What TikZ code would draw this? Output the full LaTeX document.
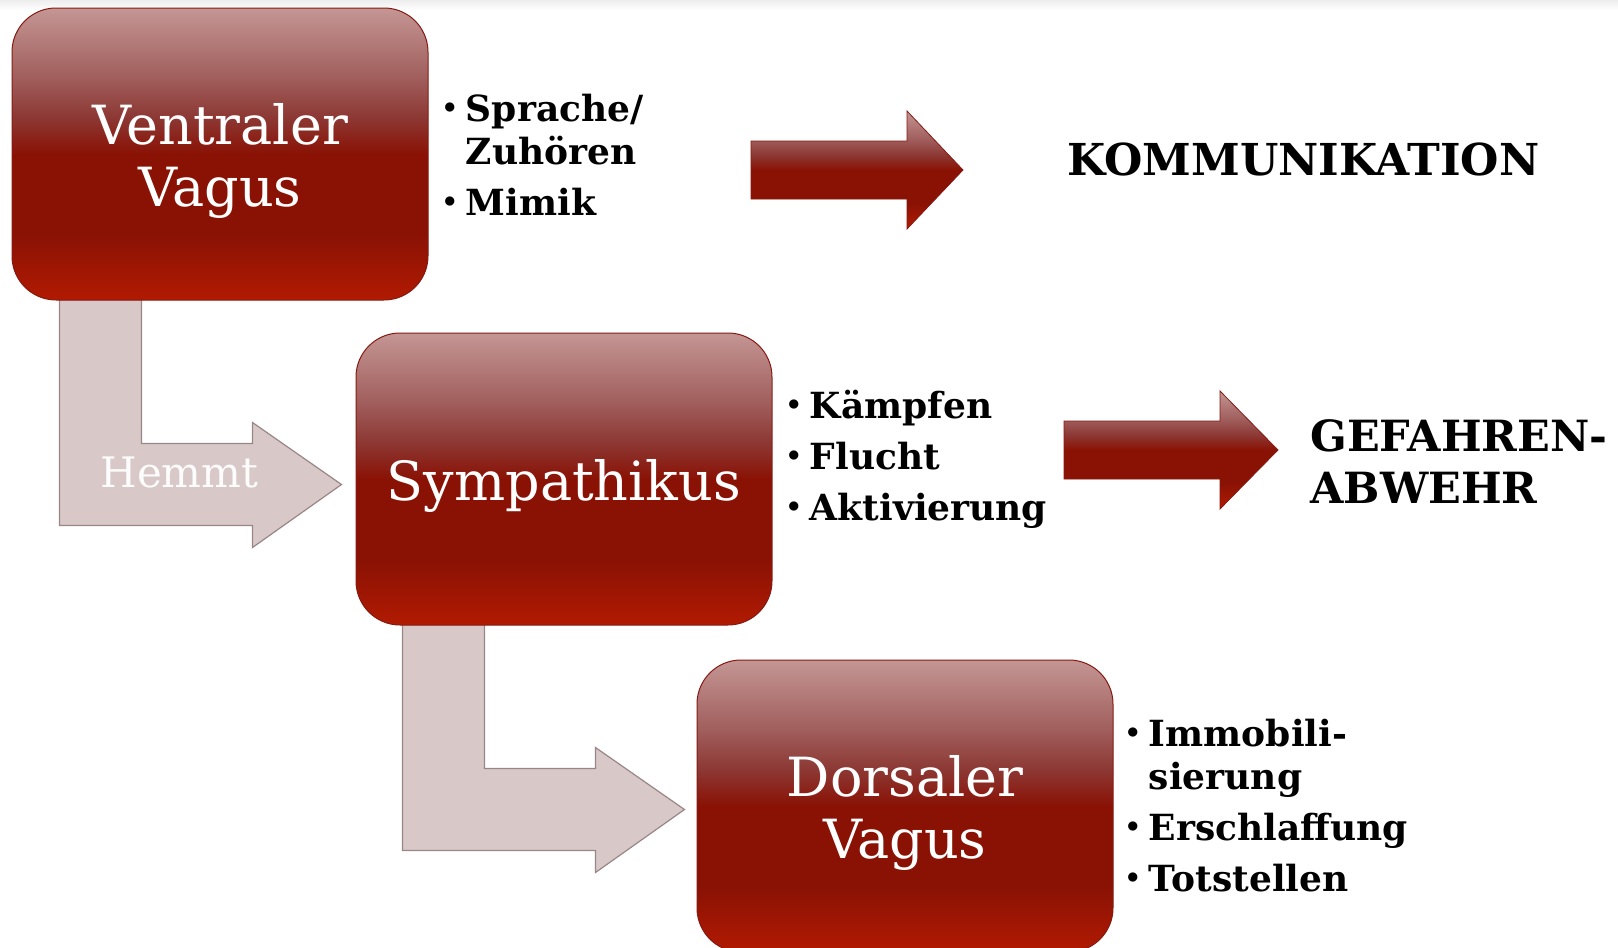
\documentclass[tikz,border=0pt]{standalone}
\usepackage{fontspec}
\setmainfont{DejaVu Serif}
\usetikzlibrary{calc,backgrounds}

\definecolor{boxtop}{HTML}{C49694}
\definecolor{boxupper}{HTML}{A05E5C}
\definecolor{boxlow}{HTML}{8C3632}
\definecolor{boxmid}{HTML}{8A1204}
\definecolor{boxbot}{HTML}{B21A02}
\definecolor{boxline}{HTML}{861A12}
\definecolor{bendfill}{HTML}{D8C8C8}
\definecolor{bendline}{HTML}{9A8686}

\pgfdeclareverticalshading{vagusshade}{100bp}{color(0bp)=(boxbot); color(25bp)=(boxbot); color(36bp)=(boxmid); color(50bp)=(boxmid); color(56bp)=(boxlow); color(63bp)=(boxupper); color(75bp)=(boxtop); color(100bp)=(boxtop)}

\tikzset{
	nerve/.style={shade, shading=vagusshade, draw=boxline, line width=0.5pt, rounded corners=22pt,
		minimum width=208pt, minimum height=146pt, inner sep=0pt, align=center, text=white,
		font=\fontsize{27}{31}\selectfont},
	items/.style={anchor=base west, inner sep=0pt, font=\fontsize{18}{21.5}\selectfont\bfseries},
	outcome/.style={anchor=base west, inner sep=0pt, align=left, font=\fontsize{22}{26}\selectfont\bfseries},
	inhibit/.style={fill=bendfill, draw=bendline, line width=0.6pt},
	redarrow/.style={shade, shading=vagusshade, draw=boxline, line width=0.4pt},
}
\newcommand{\itembullet}{\makebox[11pt][l]{\raisebox{4pt}{\fontsize{12.5}{12.5}\selectfont$\bullet$}}}
\newcommand{\nervestrut}{\rule{0pt}{27pt}}

\begin{document}
\begin{tikzpicture}[x=0.5pt, y=-0.5pt]
	\useasboundingbox (0,0) rectangle (1618,948);
	\shade[top color=gray!14, bottom color=white] (0,0) rectangle (1618,10);
	
	% the three boxes
	\node[nerve] (ventral) at (220,154) {\nervestrut Ventraler\\Vagus};
	\node[nerve] (sympath) at (564,479) {\nervestrut Sympathikus};
	\node[nerve] (dorsal) at (905,806) {\nervestrut Dorsaler\\Vagus};
	
	% bent arrows
	\begin{scope}[on background layer]
		\draw[inhibit] ($(ventral.south west)+(48,-1)$) -- ++(82,0) -- ++(0,144) -- ++(111,0) -- ++(0,-21) -- ++(89,62) -- ++(-89,63) -- ++(0,-22) -- ++(-193,0) -- cycle;
		\draw[inhibit] ($(sympath.south west)+(47,-1)$) -- ++(82,0) -- ++(0,144) -- ++(111,0) -- ++(0,-21) -- ++(89,62) -- ++(-89,63) -- ++(0,-22) -- ++(-193,0) -- cycle;
	\end{scope}
	\node[text=white!94!bendfill, font=\fontsize{21}{25}\selectfont] (hemmt) at ($(ventral.south west)+(168,172)$) {Hemmt};
	
	% lists
	\node[items] (ventralitems) at ($(ventral.north east)+(15,114)$) {\begin{tabular}[t]{@{}l@{}l@{}}
			\itembullet & Sprache/\\
			& Zuhören\\[4pt]
			\itembullet & Mimik
		\end{tabular}};
	\node[items] (sympathitems) at ($(sympath.north east)+(15,86)$) {\begin{tabular}[t]{@{}l@{}l@{}}
			\itembullet & Kämpfen\\[4pt]
			\itembullet & Flucht\\[4pt]
			\itembullet & Aktivierung
		\end{tabular}};
	\node[items] (dorsalitems) at ($(dorsal.north east)+(13,87)$) {\begin{tabular}[t]{@{}l@{}l@{}}
			\itembullet & Immobili-\\
			& sierung\\[4pt]
			\itembullet & Erschlaffung\\[4pt]
			\itembullet & Totstellen
		\end{tabular}};
	
	% red arrows and results
	\coordinate (kommarrow) at (751,170);
	\coordinate (gefahrarrow) at (1064,450);
	\draw[redarrow] ($(kommarrow)+(0,-29)$) -- ++(156,0) -- ++(0,-30) -- ++(56,59) -- ++(-56,59) -- ++(0,-30) -- ++(-156,0) -- cycle;
	\draw[redarrow] ($(gefahrarrow)+(0,-29)$) -- ++(156,0) -- ++(0,-30) -- ++(58,59) -- ++(-58,59) -- ++(0,-30) -- ++(-156,0) -- cycle;
	\node[outcome] (komm) at (1067,175) {KOMMUNIKATION};
	\node[outcome, font=\fontsize{21.5}{26}\selectfont\bfseries] (gefahr) at (1310,503) {GEFAHREN-\\ABWEHR};
\end{tikzpicture}
\end{document}
